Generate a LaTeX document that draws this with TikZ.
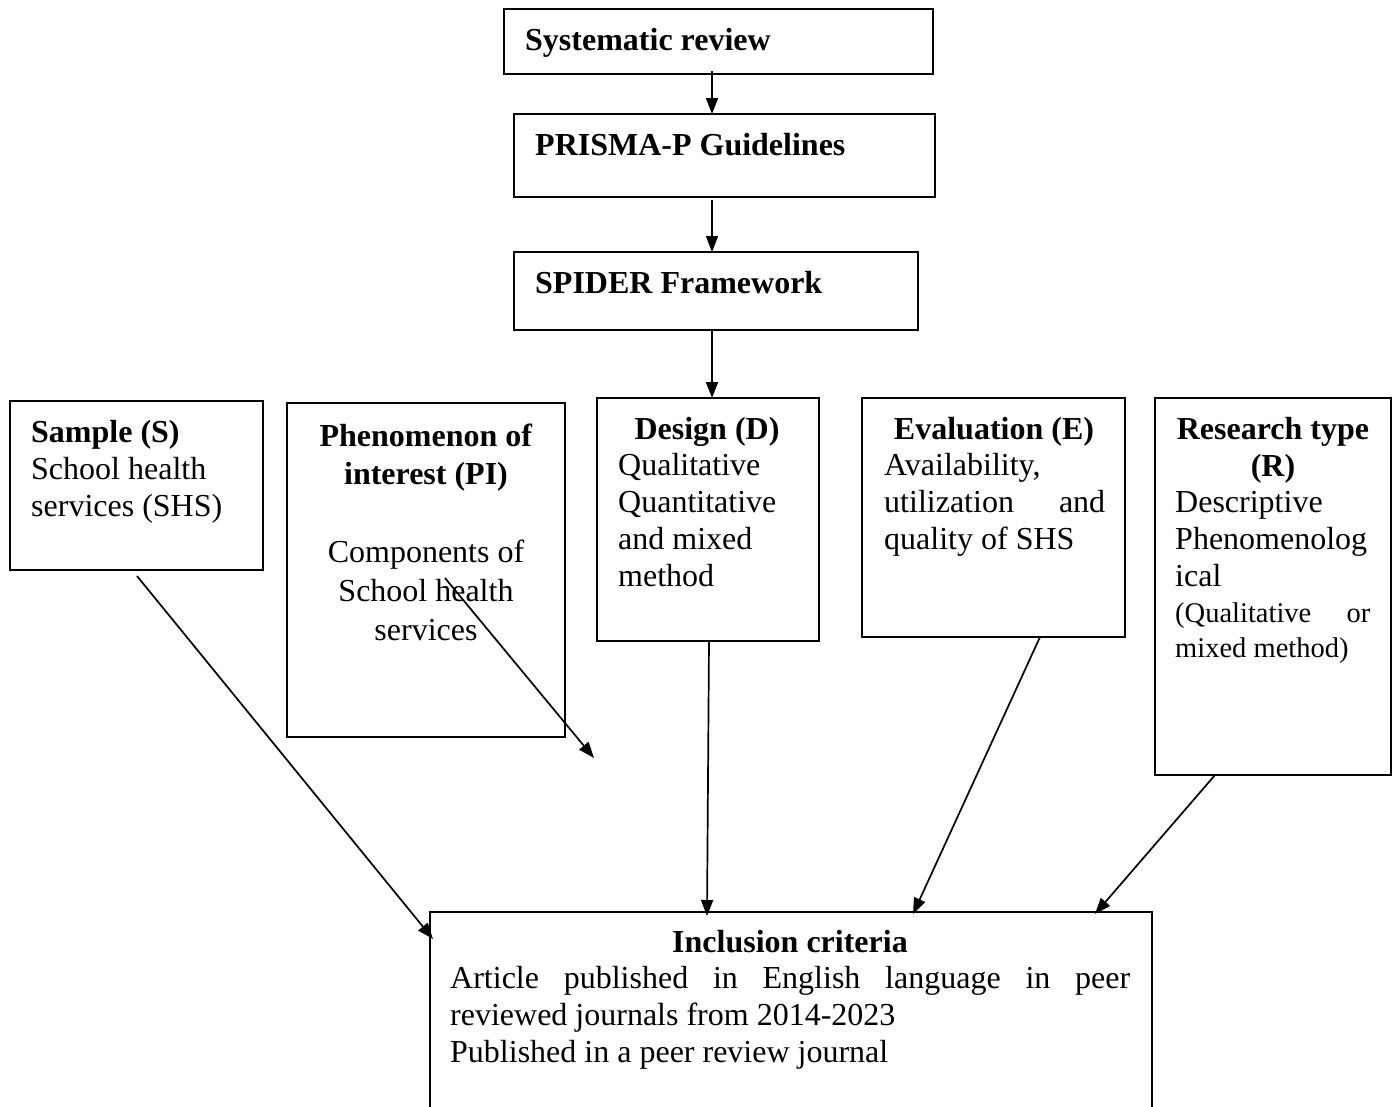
\documentclass[tikz,border=0pt]{standalone}
\usepackage{fontspec}
\setmainfont{Liberation Serif}
\usetikzlibrary{arrows.meta}
\begin{document}
\begin{tikzpicture}[x=1pt,y=-1pt,
  box/.style={draw, line width=1.7pt, inner sep=0pt, outer sep=0pt, anchor=north west},
  toptxt/.style={anchor=base west, inner sep=0pt, font=\fontsize{32}{36}\selectfont\bfseries},
  txt/.style={anchor=base west, inner sep=0pt, font=\fontsize{32}{37.3}\selectfont},
  ctxt/.style={anchor=base, inner sep=0pt, font=\fontsize{32}{37.3}\selectfont},
  arr/.style={line width=1.7pt, -{Triangle[length=16pt,width=12pt]}}]
\useasboundingbox (0,0) rectangle (1394,1106);
\clip (0,0) rectangle (1394,1106);
% top boxes
\node[box, minimum width=429pt, minimum height=65pt] (sys) at (504,9) {};
\node[toptxt] (systxt) at (525,50) {Systematic review};
\node[box, minimum width=421pt, minimum height=83pt] (pri) at (514,114) {};
\node[toptxt] (pritxt) at (535,155) {PRISMA-P Guidelines};
\node[box, minimum width=404pt, minimum height=78pt] (spi) at (514,252) {};
\node[toptxt] (spitxt) at (535,293) {SPIDER Framework};
% SPIDER boxes
\node[box, minimum width=253pt, minimum height=169pt] (s) at (10,401) {};
\node[txt] (stxt) at (31,442) {\parbox[t]{230pt}{\raggedright\textbf{Sample (S)}\\School health\\services (SHS)}};
\node[box, minimum width=278pt, minimum height=334pt] (pi) at (287,403) {};
\node[ctxt, font=\fontsize{32}{38.8}\selectfont] (pitxt) at (426,446) {\parbox[t]{270pt}{\centering\textbf{Phenomenon of}\\\textbf{interest (PI)}\\[38.8pt]Components of\\School health\\services}};
\node[box, minimum width=222pt, minimum height=243pt] (d) at (597,398) {};
\node[ctxt] (dhead) at (707,439) {\textbf{Design (D)}};
\node[txt] (dtxt) at (618,475) {\parbox[t]{200pt}{\raggedright Qualitative\\Quantitative\\and mixed\\method}};
\node[box, minimum width=263pt, minimum height=239pt] (e) at (862,398) {};
\node[ctxt] (ehead) at (994,439) {\textbf{Evaluation (E)}};
\node[txt] (etxt) at (884,475) {\parbox[t]{225pt}{\raggedright Availability,\\\makebox[221pt][s]{utilization and}\\quality of SHS}};
\node[box, minimum width=236pt, minimum height=377pt] (r) at (1155,398) {};
\node[ctxt] (rhead) at (1273,439) {\parbox[t]{230pt}{\centering\textbf{Research type}\\\textbf{(R)}}};
\node[txt] (rtxt) at (1175,512) {\parbox[t]{215pt}{\raggedright Descriptive\\Phenomenolog\\ical}};
\node[txt, font=\fontsize{28.5}{35}\selectfont] (rtxt2) at (1175,622) {\parbox[t]{200pt}{\raggedright\makebox[195pt][s]{(Qualitative or}\\mixed method)}};
% inclusion
\node[box, minimum width=722pt, minimum height=220pt] (inc) at (430,912) {};
\node[ctxt] (inchead) at (790,952) {\textbf{Inclusion criteria}};
\node[txt, font=\fontsize{32}{37}\selectfont] (inctxt) at (450,988) {\parbox[t]{690pt}{\raggedright\makebox[680pt][s]{Article published in English language in peer}\\reviewed journals from 2014-2023\\Published in a peer review journal}};
% connectors
\coordinate (a1s) at (712,71);
\coordinate (a1e) at (712,114);
\draw[arr] (a1s) -- (a1e);
\coordinate (a2s) at (712,200);
\coordinate (a2e) at (712,252);
\draw[arr] (a2s) -- (a2e);
\coordinate (a3s) at (712,330);
\coordinate (a3e) at (712,398);
\draw[arr] (a3s) -- (a3e);
\coordinate (ss) at (137,576);
\coordinate (se) at (433,939);
\draw[arr] (ss) -- (se);
\coordinate (pis) at (445,578);
\coordinate (pie) at (594,758);
\draw[arr] (pis) -- (pie);
\coordinate (ds) at (709,641);
\coordinate (de) at (707,916);
\draw[arr] (ds) -- (de);
\coordinate (es) at (1040,637);
\coordinate (ee) at (913,914);
\draw[arr] (es) -- (ee);
\coordinate (rs) at (1215,775);
\coordinate (re) at (1095,914);
\draw[arr] (rs) -- (re);
\end{tikzpicture}
\end{document}
